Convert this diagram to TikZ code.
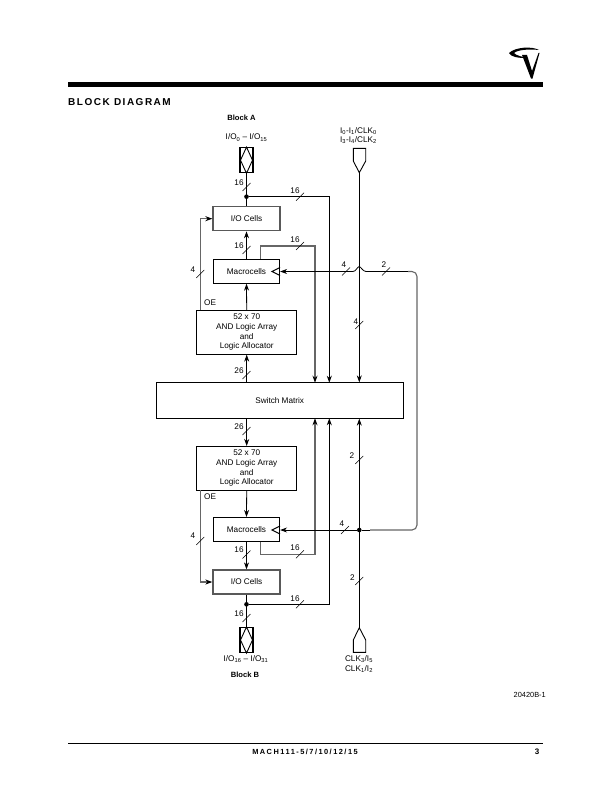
\documentclass[tikz,border=0pt]{standalone}
\usepackage{fontspec}
\setmainfont{Liberation Sans}
\usepackage{tikz}
\usetikzlibrary{arrows.meta, positioning, calc}

\tikzset{
  every node/.style={font=\fontsize{8.2}{9.6}\selectfont, inner sep=0pt, align=center},
  block/.style={draw, line width=0.7pt, fill=white},
  cellblock/.style={draw=black!65, line width=1.3pt, fill=white, minimum width=67pt, minimum height=24pt},
  macroblock/.style={block, minimum width=66.5pt, minimum height=24pt},
  andblock/.style={block, minimum width=100pt, minimum height=44pt},
  bus/.style={line width=0.8pt, -{Stealth[length=7pt,width=5pt]}},
  wire/.style={line width=0.8pt},
  feed/.style={line width=1.1pt, black!60, -{Stealth[length=7pt,width=5pt,black]}},
  busmark/.style={line width=0.5pt},
  dot/.style={circle, fill, minimum size=4.6pt},
  blockname/.style={font=\fontsize{7.6}{9}\selectfont\bfseries}
}

\begin{document}
\begin{tikzpicture}[x=1pt, y=-1pt]
\useasboundingbox (0,0) rectangle (612,792);

% page furniture
\fill (68,82) rectangle (543,87);
\draw[line width=0.9pt] (68,743) -- (543,743);
\node[anchor=west, font=\fontsize{10}{11}\selectfont\bfseries] (title) at (68,102.5) {\addfontfeature{LetterSpace=15}BLOCK DIAGRAM};
\node[font=\fontsize{7.4}{9}\selectfont\bfseries] (footer) at (305,752) {\addfontfeature{LetterSpace=20}MACH111-5/7/10/12/15};
\node[font=\fontsize{8}{9}\selectfont\bfseries] (page) at (537,752) {3};
\node[anchor=east, font=\fontsize{7.4}{8}\selectfont] (figno) at (546,695) {20420B-1};

% logo
\fill (522,55) -- (527,55) -- (532,71) -- (538.5,53) -- (539.5,53) -- (532.5,78.5) -- (531,78.5) -- cycle;
\fill (509,53) .. controls (515,47) and (532,46) .. (539,50) .. controls (530,49) and (518,49.5) .. (514,53) .. controls (516,55.5) and (522,56.5) .. (526,58) .. controls (518,58) and (511,57) .. (509,53) -- cycle;

% blocks
\node[cellblock] (ioA) at (246.5,218.7) {I/O Cells};
\node[macroblock] (macroA) at (246.5,271.3) {Macrocells};
\node[andblock] (andA) at (246.7,332.3) {52 x 70\\AND Logic Array\\and\\Logic Allocator};
\node[block, minimum width=247.3pt, minimum height=35.6pt] (switch) at (279.7,400.5) {Switch Matrix};
\node[andblock] (andB) at (246.7,468.3) {52 x 70\\AND Logic Array\\and\\Logic Allocator};
\node[macroblock] (macroB) at (246.5,529.3) {Macrocells};
\node[cellblock] (ioB) at (246.5,582) {I/O Cells};

% pins
\node[draw, line width=1.2pt, minimum width=13pt, minimum height=25pt] (pinA) at (246.5,160.2) {};
\draw[line width=0.9pt] (pinA.north) -- (240.5,160.2) -- (pinA.south) -- (252.5,160.2) -- cycle;
\node[draw, line width=1.2pt, minimum width=13pt, minimum height=25pt] (pinB) at (246.5,640) {};
\draw[line width=0.9pt] (pinB.north) -- (240.5,640) -- (pinB.south) -- (252.5,640) -- cycle;
\coordinate (clkA) at (359.3,172.7);
\coordinate (clkB) at (359.3,627.7);
\draw[line width=0.9pt] (clkA) -- (353.3,161) -- (353.3,148.3) -- (365.7,148.3) -- (365.7,161) -- cycle;
\draw[line width=0.9pt] (clkB) -- (353.3,640) -- (353.3,652.3) -- (365.7,652.3) -- (365.7,640) -- cycle;

% pin labels
\node[blockname] (blockA) at (241.5,118) {Block A};
\node[blockname] (blockB) at (245,675) {Block B};
\node (ioNameA) at (246.5,137.5) {I/O\textsubscript{0} -- I/O\textsubscript{15}};
\node (ioNameB) at (246,659) {I/O\textsubscript{16} -- I/O\textsubscript{31}};
\node (clkNameA) at (358.5,135.5) {I\textsubscript{0}-I\textsubscript{1}/CLK\textsubscript{0}\\I\textsubscript{3}-I\textsubscript{4}/CLK\textsubscript{2}};
\node (clkNameB) at (359,664) {CLK\textsubscript{3}/I\textsubscript{5}\\CLK\textsubscript{1}/I\textsubscript{2}};

% joints and turning points
\node[dot] (dotA) at (246.5,196.7) {};
\node[dot] (dotB) at (246.5,604.3) {};
\node[dot] (dotC) at (359.3,530) {};
\coordinate (fbA) at (260.3,246);
\coordinate (fbB) at (260.3,554.3);
\coordinate (swFeedA) at (315,382.7);
\coordinate (swBusA) at (329.3,382.7);
\coordinate (swFeedB) at (315,418.3);
\coordinate (swBusB) at (329.3,418.3);
\coordinate (oeA) at (200.3,310.3);
\coordinate (oeB) at (200.3,490.3);
\coordinate (ckA) at (272,271.5);
\coordinate (ckB) at (272,530);

% block A side
\draw[wire] (pinA.south) -- (ioA.north);
\draw[bus] (macroA.north) -- (ioA.south);
\draw[bus] (andA.north) -- (macroA.south);
\draw[bus] (switch.north -| andA) -- (andA.south);
\draw[bus] (dotA) -| (swBusA);
\draw[feed] (macroA.north -| fbA) -- (fbA) -| (swFeedA);
\draw[feed] (oeA) |- (ioA.west);
\draw[bus] (clkA) -- (switch.north -| clkA);

% block B side
\draw[bus] (switch.south -| andB) -- (andB.north);
\draw[bus] (andB.south) -- (macroB.north);
\draw[bus] (macroB.south) -- (ioB.north);
\draw[wire] (ioB.south) -- (pinB.north);
\draw[bus] (dotB) -| (swBusB);
\draw[feed] (macroB.south -| fbB) -- (fbB) -| (swFeedB);
\draw[feed] (oeB) |- (ioB.west);
\draw[bus] (clkB) -- (switch.south -| clkB);

% clock line into both macrocell blocks
\draw[bus] (dotC) -- (macroB.east |- dotC);
\draw[bus] (353,271.5) -- (macroA.east |- ckA);
\draw[wire] (353,271.5) .. controls (356,271.5) and (357,267) .. (359.3,266.5) .. controls (361,267) and (363,271.5) .. (366,271.5);
\draw[wire] (366,271.5) -- (411,271.5);
\draw[line width=1.1pt, black!60, rounded corners=5pt] (408,271.5) -- (417,271.5) -- (417,530) -- (370,530);
\draw[wire] (370,530) -- (dotC);
\draw[line width=1pt] ($(macroA.east |- ckA)+(0,-4)$) -- (ckA) -- ($(macroA.east |- ckA)+(0,4)$);
\draw[line width=1pt] ($(macroB.east |- ckB)+(0,-4)$) -- (ckB) -- ($(macroB.east |- ckB)+(0,4)$);

% bus widths
\draw[busmark] (246.5,187) +(-4,4) -- +(4,-4);
\node (w16a) at (239,183) {16};
\draw[busmark] (300,196.7) +(-4,4) -- +(4,-4);
\node (w16b) at (295,190.5) {16};
\draw[busmark] (300,246) +(-4,4) -- +(4,-4);
\node (w16c) at (295,240) {16};
\draw[busmark] (246.5,250) +(-4,4) -- +(4,-4);
\node (w16d) at (239,245.5) {16};
\draw[busmark] (200.3,274) +(-4,4) -- +(4,-4);
\node (w4a) at (193,270) {4};
\draw[busmark] (346,271.5) +(-4,4) -- +(4,-4);
\node (w4b) at (344,265) {4};
\draw[busmark] (386,271.5) +(-4,4) -- +(4,-4);
\node (w2a) at (384,265) {2};
\draw[busmark] (359.3,325) +(-4,4) -- +(4,-4);
\node (w4c) at (356,321.5) {4};
\draw[busmark] (246.5,375) +(-4,4) -- +(4,-4);
\node (w26a) at (239,370.5) {26};
\draw[busmark] (246.5,431) +(-4,4) -- +(4,-4);
\node (w26b) at (239,426.5) {26};
\draw[busmark] (359.3,460) +(-4,4) -- +(4,-4);
\node (w2b) at (352,455.5) {2};
\draw[busmark] (200.3,541) +(-4,4) -- +(4,-4);
\node (w4d) at (193,536) {4};
\draw[busmark] (345,530) +(-4,4) -- +(4,-4);
\node (w4e) at (342,523.5) {4};
\draw[busmark] (246.5,554.5) +(-4,4) -- +(4,-4);
\node (w16e) at (239,550) {16};
\draw[busmark] (300,554.3) +(-4,4) -- +(4,-4);
\node (w16f) at (295,548) {16};
\draw[busmark] (359.3,581) +(-4,4) -- +(4,-4);
\node (w2c) at (352.5,577.5) {2};
\draw[busmark] (300,604.3) +(-4,4) -- +(4,-4);
\node (w16g) at (295,598.5) {16};
\draw[busmark] (246.5,618) +(-4,4) -- +(4,-4);
\node (w16h) at (239,613.5) {16};

\node[anchor=west] (oeNameA) at (204,302.5) {OE};
\node[anchor=west] (oeNameB) at (204,496.5) {OE};

\end{tikzpicture}
\end{document}
